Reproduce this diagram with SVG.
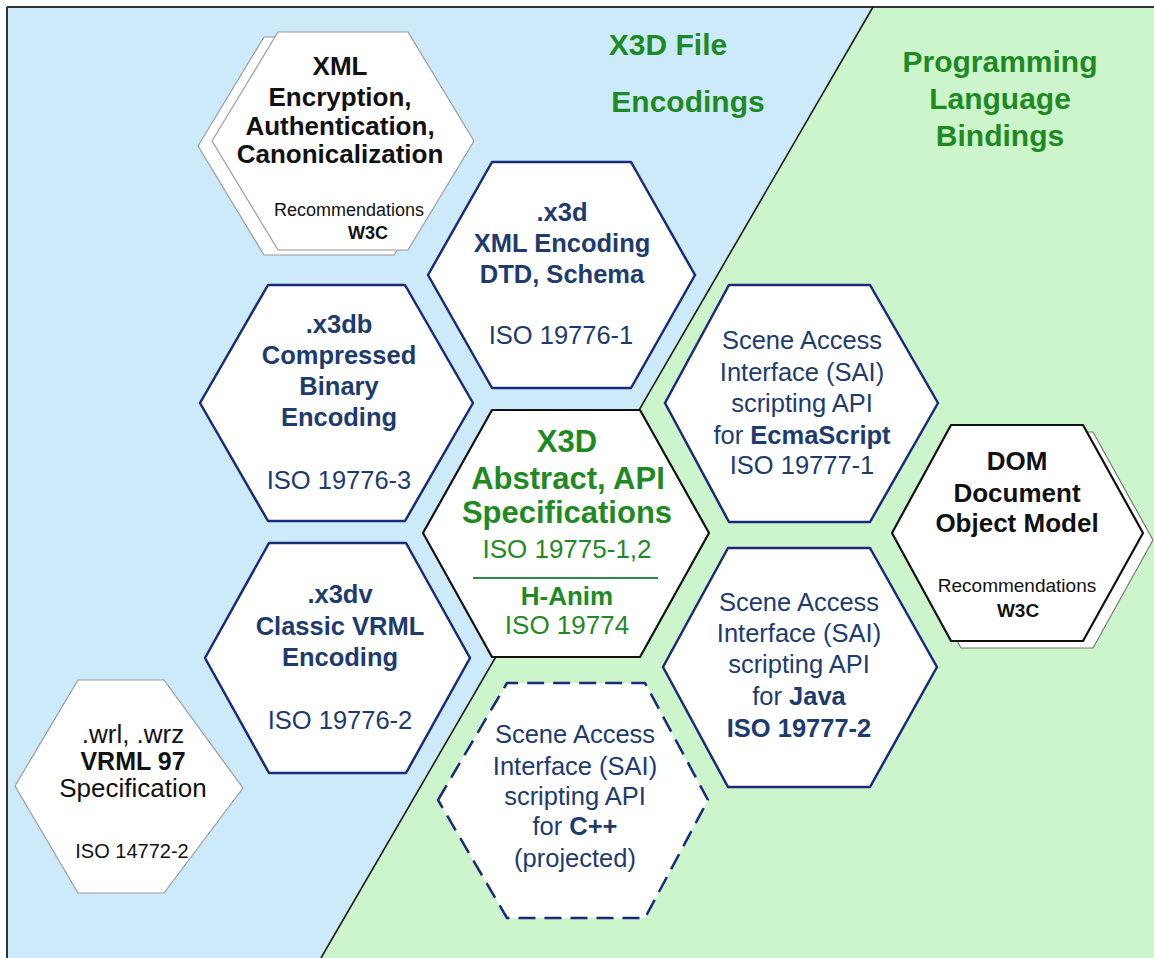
<svg xmlns="http://www.w3.org/2000/svg" width="1154" height="958" viewBox="0 0 1154 958">
<defs>
<style>
text{font-family:"Liberation Sans",Arial,sans-serif;text-anchor:middle}
.b{font-weight:bold}
.nv{fill:#1d3b6f}
.gr{fill:#1f8a24}
.bk{fill:#111}
.t25{font-size:25.5px}
.title{font-size:30px;font-weight:bold;fill:#1f8a24}
.hexn{fill:#fff;stroke:#1a2a7a;stroke-width:2.5;stroke-linejoin:round}
.hexk{fill:#fff;stroke:#111;stroke-width:2.2;stroke-linejoin:round}
.hexg{fill:#fff;stroke:#9a9a9a;stroke-width:1.2;stroke-linejoin:round}
.hexd{fill:#fff;stroke:#1a2a7a;stroke-width:2.5;stroke-dasharray:17 9;stroke-linejoin:round}
</style>
</defs>
<rect x="0" y="0" width="1154" height="958" fill="#fff"/>
<g id="background">
<polygon points="7,7 873,7 321,958 7,958" fill="#cdeafb"/>
<polygon points="873,7 1154,7 1154,958 321,958" fill="#ccf5cc"/>
<line x1="7" y1="7" x2="1154" y2="7" stroke="#333" stroke-width="2"/>
<line x1="7" y1="7" x2="7" y2="958" stroke="#333" stroke-width="2"/>
</g>
<g id="connectors">
<line x1="873" y1="7" x2="321" y2="958" stroke="#1a1a1a" stroke-width="1.6"/>
</g>
<g id="titles">
<text class="title" x="668" y="55">X3D File</text>
<text class="title" x="688" y="112">Encodings</text>
<text class="title" x="1000" y="72">Programming</text>
<text class="title" x="1000" y="109">Language</text>
<text class="title" x="1000" y="146">Bindings</text>
</g>
<g id="xml">
<polygon class="hexg" points="198,146 264,37 394,37 460,146 394,255 264,255"/>
<polygon class="hexg" points="212,141 278,32 408,32 474,141 408,250 278,250"/>
<text class="b bk" style="font-size:26px" x="340" y="75">XML</text>
<text class="b bk" style="font-size:26px" x="340" y="106">Encryption,</text>
<text class="b bk" style="font-size:26px" x="340" y="135">Authentication,</text>
<text class="b bk" style="font-size:26px" x="340" y="163">Canonicalization</text>
<text class="bk" style="font-size:18px" x="349" y="216">Recommendations</text>
<text class="b bk" style="font-size:18px" x="368" y="239">W3C</text>
</g>
<g id="x3d">
<polygon class="hexn" points="428,275 492,162 631,162 695,275 631,388 492,388"/>
<text class="b nv t25" x="562" y="221">.x3d</text>
<text class="b nv t25" x="562" y="252">XML Encoding</text>
<text class="b nv t25" x="562" y="283">DTD, Schema</text>
<text class="nv t25" x="561" y="344">ISO 19776-1</text>
</g>
<g id="x3db">
<polygon class="hexn" points="200,403 268,285 405,285 473,403 405,521 268,521"/>
<text class="b nv t25" x="339" y="333">.x3db</text>
<text class="b nv t25" x="339" y="364">Compressed</text>
<text class="b nv t25" x="339" y="395">Binary</text>
<text class="b nv t25" x="339" y="426">Encoding</text>
<text class="nv t25" x="339" y="489">ISO 19776-3</text>
</g>
<g id="x3dv">
<polygon class="hexn" points="205,658 269,543 406,543 470,658 406,773 269,773"/>
<text class="b nv t25" x="340" y="603">.x3dv</text>
<text class="b nv t25" x="340" y="635">Classic VRML</text>
<text class="b nv t25" x="340" y="666">Encoding</text>
<text class="nv t25" x="340" y="729">ISO 19776-2</text>
</g>
<g id="abstract">
<polygon class="hexk" points="423,533 492,410 640,410 709,533 640,657 492,657"/>
<text class="b gr" style="font-size:31px" x="567" y="452">X3D</text>
<text class="b gr" style="font-size:31px" x="568" y="489">Abstract, API</text>
<text class="b gr" style="font-size:31px" x="567" y="523">Specifications</text>
<text class="gr" style="font-size:26px" x="567" y="558">ISO 19775-1,2</text>
<line x1="473" y1="578" x2="658" y2="578" stroke="#2a8a4a" stroke-width="2"/>
<text class="b gr" style="font-size:26px" x="567" y="605">H-Anim</text>
<text class="gr" style="font-size:26px" x="567" y="634">ISO 19774</text>
</g>
<g id="sai-ecmascript">
<polygon class="hexn" points="665,403 729,285 870,285 938,403 870,522 729,522"/>
<text class="nv t25" x="802" y="349">Scene Access</text>
<text class="nv t25" x="802" y="381">Interface (SAI)</text>
<text class="nv t25" x="802" y="412">scripting API</text>
<text class="nv t25" x="802" y="444">for <tspan class="b">EcmaScript</tspan></text>
<text class="nv t25" x="802" y="474">ISO 19777-1</text>
</g>
<g id="sai-java">
<polygon class="hexn" points="663,667 728,548 870,548 937,667 870,787 728,787"/>
<text class="nv t25" x="799" y="611">Scene Access</text>
<text class="nv t25" x="799" y="642">Interface (SAI)</text>
<text class="nv t25" x="799" y="673">scripting API</text>
<text class="nv t25" x="799" y="705">for <tspan class="b">Java</tspan></text>
<text class="b nv t25" x="799" y="737">ISO 19777-2</text>
</g>
<g id="sai-cpp">
<polygon class="hexd" points="438,800 507,683 645,683 708,800 645,918 507,918"/>
<text class="nv t25" x="575" y="743">Scene Access</text>
<text class="nv t25" x="575" y="775">Interface (SAI)</text>
<text class="nv t25" x="575" y="805">scripting API</text>
<text class="nv t25" x="575" y="835">for <tspan class="b">C++</tspan></text>
<text class="nv t25" x="575" y="867">(projected)</text>
</g>
<g id="dom">
<polygon fill="#fff" stroke="#777" stroke-width="1.2" points="902,540 961,432 1093,432 1153,540 1093,648 961,648"/>
<polygon class="hexk" points="892,533 951,425 1083,425 1143,533 1083,641 951,641"/>
<text class="b bk" style="font-size:26px" x="1017" y="470">DOM</text>
<text class="b bk" style="font-size:26px" x="1017" y="502">Document</text>
<text class="b bk" style="font-size:26px" x="1017" y="532">Object Model</text>
<text class="bk" style="font-size:19px" x="1017" y="592">Recommendations</text>
<text class="b bk" style="font-size:19px" x="1018" y="617">W3C</text>
</g>
<g id="vrml97">
<polygon class="hexg" points="15,786 78,680 164,680 243,788 164,893 78,893"/>
<text class="bk" style="font-size:26px" x="133" y="743">.wrl, .wrz</text>
<text class="b bk" style="font-size:25px" x="133" y="770">VRML 97</text>
<text class="bk" style="font-size:26px" x="133" y="797">Specification</text>
<text class="bk" style="font-size:20px" x="132" y="858">ISO 14772-2</text>
</g>
</svg>
